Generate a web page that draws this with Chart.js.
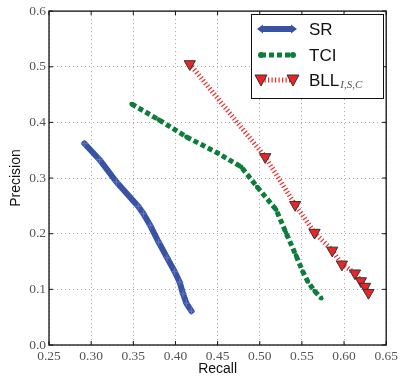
<!DOCTYPE html>
<html>
<head>
<meta charset="utf-8">
<script src="https://cdn.jsdelivr.net/npm/chart.js@4/dist/chart.umd.min.js"></script>
<style>
  html, body { margin:0; padding:0; background:#fff; }
  #wrap { width:401px; height:381px; position:relative; }
</style>
</head>
<body>
<div id="wrap"><canvas id="c" width="401" height="381"></canvas></div>
<script>
// --- Data ---
const srRecall     = [0.292, 0.310, 0.330, 0.356, 0.362, 0.370, 0.380, 0.390, 0.399, 0.405, 0.409, 0.413, 0.419];
const srPrecision  = [0.362, 0.333, 0.293, 0.249, 0.236, 0.215, 0.185, 0.157, 0.132, 0.113, 0.092, 0.075, 0.061];

const tciRecall    = [0.348, 0.380, 0.413, 0.450, 0.478, 0.497, 0.5195, 0.531, 0.543, 0.551, 0.557, 0.565, 0.573];
const tciPrecision = [0.433, 0.405, 0.374, 0.345, 0.320, 0.284, 0.243, 0.202, 0.161, 0.132, 0.114, 0.097, 0.084];

const bllRecall    = [0.417, 0.5065, 0.542, 0.565, 0.586, 0.5975, 0.613, 0.620, 0.625, 0.629];
const bllPrecision = [0.505, 0.338, 0.252, 0.202, 0.170, 0.145, 0.129, 0.115, 0.105, 0.094];

const xTicks = [0.25, 0.30, 0.35, 0.40, 0.45, 0.50, 0.55, 0.60, 0.65];
const yTicks = [0.0, 0.1, 0.2, 0.3, 0.4, 0.5, 0.6];

const BLUE = '#3953a4', GREEN = '#0e7c3a', RED = '#f22a2a';

const pts = (xs, ys) => xs.map((x, i) => ({ x, y: ys[i] }));

// frame + inward ticks + legend with subscript
const framePlugin = {
  id: 'frame',
  afterDraw(chart) {
    const { ctx, chartArea: a, scales: { x, y } } = chart;
    ctx.save();
    ctx.strokeStyle = '#111';
    ctx.lineWidth = 1.3;
    ctx.strokeRect(a.left, a.top, a.right - a.left, a.bottom - a.top);
    ctx.lineWidth = 1;
    xTicks.forEach(v => {
      const px = x.getPixelForValue(v);
      ctx.beginPath(); ctx.moveTo(px, a.bottom); ctx.lineTo(px, a.bottom - 4);
      ctx.moveTo(px, a.top); ctx.lineTo(px, a.top + 4); ctx.stroke();
    });
    yTicks.forEach(v => {
      const py = y.getPixelForValue(v);
      ctx.beginPath(); ctx.moveTo(a.left, py); ctx.lineTo(a.left + 4, py);
      ctx.moveTo(a.right, py); ctx.lineTo(a.right - 4, py); ctx.stroke();
    });

    // legend
    const bx = 251.5, by = 14.5, bw = 132, bh = 84;
    ctx.fillStyle = '#fff';
    ctx.fillRect(bx, by, bw, bh);
    ctx.strokeStyle = '#111';
    ctx.lineWidth = 1;
    ctx.strokeRect(bx, by, bw, bh);

    const x0 = 261, x1 = 293, tx = 309;
    const rows = [29, 55, 80];

    // SR
    ctx.strokeStyle = BLUE; ctx.lineWidth = 6; ctx.setLineDash([]);
    ctx.beginPath(); ctx.moveTo(x0, rows[0]); ctx.lineTo(x1, rows[0]); ctx.stroke();
    ctx.fillStyle = BLUE;
    [[x0, -1], [x1, 1]].forEach(([px, d]) => {
      ctx.beginPath(); ctx.moveTo(px + d * 4, rows[0]); ctx.lineTo(px - d * 2, rows[0] - 4.5);
      ctx.lineTo(px - d * 2, rows[0] + 4.5); ctx.closePath(); ctx.fill();
    });

    // TCI
    ctx.strokeStyle = GREEN; ctx.lineWidth = 5; ctx.setLineDash([5, 3]);
    ctx.beginPath(); ctx.moveTo(x0, rows[1]); ctx.lineTo(x1, rows[1]); ctx.stroke();
    ctx.setLineDash([]); ctx.fillStyle = GREEN;
    [x0, x1].forEach(px => { ctx.beginPath(); ctx.arc(px, rows[1], 3, 0, Math.PI * 2); ctx.fill(); });

    // BLL
    ctx.strokeStyle = RED; ctx.lineWidth = 5; ctx.setLineDash([1.2, 2.3]);
    ctx.beginPath(); ctx.moveTo(x0, rows[2]); ctx.lineTo(x1, rows[2]); ctx.stroke();
    ctx.setLineDash([]);
    [x0, x1].forEach(px => {
      ctx.beginPath(); ctx.moveTo(px - 6, rows[2] - 5); ctx.lineTo(px + 6, rows[2] - 5);
      ctx.lineTo(px, rows[2] + 6); ctx.closePath();
      ctx.fillStyle = '#e8262a'; ctx.fill();
      ctx.strokeStyle = '#333'; ctx.lineWidth = 1; ctx.stroke();
    });

    ctx.fillStyle = '#111';
    ctx.textBaseline = 'middle';
    ctx.textAlign = 'left';
    ctx.font = '17px "Liberation Sans", Arial, sans-serif';
    ctx.fillText('SR', tx, rows[0] + 1);
    ctx.fillText('TCI', tx, rows[1] + 1);
    ctx.fillText('BLL', tx, rows[2] + 1);
    const w = ctx.measureText('BLL').width;
    ctx.fillStyle = '#555';
    ctx.font = 'italic 11px "Liberation Serif", serif';
    ctx.fillText('I,S,C', tx + w + 1, rows[2] + 5);
    ctx.restore();
  }
};

const gridOpts = {
  color: '#a8a8a8',
  lineWidth: 1,
  drawTicks: false,
};
const tickFont = { family: '"Liberation Serif", "Times New Roman", serif', size: 13.5 };

new Chart(document.getElementById('c'), {
  type: 'scatter',
  data: {
    datasets: [
      {
        label: 'SR', data: pts(srRecall, srPrecision), showLine: true,
        borderColor: BLUE, backgroundColor: BLUE, borderWidth: 6,
        pointStyle: 'cross', pointRadius: 3.5, pointBorderWidth: 1.2, pointBorderColor: '#5b73c0',
        borderCapStyle: 'round', borderJoinStyle: 'round'
      },
      {
        label: 'TCI', data: pts(tciRecall, tciPrecision), showLine: true,
        borderColor: GREEN, backgroundColor: GREEN, borderWidth: 5, borderDash: [5, 3],
        pointStyle: 'circle', pointRadius: 2.3, pointBorderWidth: 0
      },
      {
        label: 'BLL', data: pts(bllRecall, bllPrecision), showLine: true,
        borderColor: RED, borderWidth: 5, borderDash: [1.2, 2.3],
        pointStyle: 'triangle', rotation: 180, pointRadius: 6.5,
        pointBackgroundColor: '#e8262a', pointBorderColor: '#333', pointBorderWidth: 1
      }
    ]
  },
  options: {
    responsive: false,
    animation: false,
    layout: { padding: { top: 5, right: 14, left: 0, bottom: 0 } },
    plugins: { legend: { display: false }, tooltip: { enabled: false } },
    scales: {
      x: {
        type: 'linear', min: 0.25, max: 0.65,
        afterBuildTicks: s => { s.ticks = xTicks.map(v => ({ value: v })); },
        afterFit: s => { s.height = 36; },
        grid: gridOpts,
        border: { display: false, dash: [1, 3] },
        ticks: { padding: 3, color: '#555', font: tickFont, maxRotation: 0, callback: v => v.toFixed(2) },
        title: { display: true, text: 'Recall', color: '#111',
          font: { family: '"Liberation Sans", Arial, sans-serif', size: 14 }, padding: { top: 0, bottom: 3 } }
      },
      y: {
        type: 'linear', min: 0, max: 0.6,
        afterBuildTicks: s => { s.ticks = yTicks.map(v => ({ value: v })); },
        afterFit: s => { s.width = 49; },
        grid: gridOpts,
        border: { display: false, dash: [1, 3] },
        ticks: { padding: 3, color: '#555', font: tickFont, callback: v => v.toFixed(1) },
        title: { display: true, text: 'Precision', color: '#111',
          font: { family: '"Liberation Sans", Arial, sans-serif', size: 14 }, padding: { top: 8, bottom: 0 } }
      }
    }
  },
  plugins: [framePlugin]
});
</script>
</body>
</html>
